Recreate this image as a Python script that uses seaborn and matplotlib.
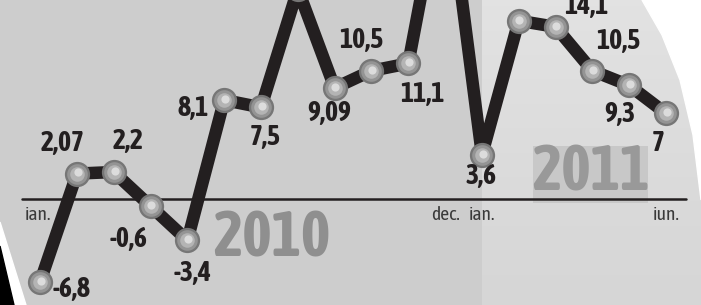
import matplotlib.pyplot as plt
import matplotlib.patches as mpatches
from matplotlib import font_manager
from matplotlib.colors import LinearSegmentedColormap
from matplotlib.transforms import IdentityTransform
import numpy as np
import seaborn as sns

# monthly values, ian. 2010 .. iun. 2011 (%)
months = ['ian.', 'feb.', 'mar.', 'apr.', 'mai', 'iun.', 'iul.', 'aug.', 'sep.', 'oct.', 'nov.', 'dec.',
          'ian.', 'feb.', 'mar.', 'apr.', 'mai', 'iun.']
values = [-6.8, 2.07, 2.2, -0.6, -3.4, 8.1, 7.5, 17.2, 9.09, 10.5, 11.1, 27.0,
          3.6, 14.6, 14.1, 10.5, 9.3, 7.0]
shown_months = [0, 11, 12, 17]
years = ['2010', '2011']

sns.set_theme(style='white')

# the original uses a condensed bold face, pick a narrow family that has a bold weight
fonts = font_manager.fontManager.ttflist
def is_narrow(f):
    return 'Narrow' in f.name or 'Condensed' in f.name
bold_w = ('bold', 'heavy', 'black', 'semibold', 'demibold', 600, 700, 800, 900)
narrow_bold = sorted({f.name for f in fonts if is_narrow(f) and f.weight in bold_w})
narrow_any = sorted({f.name for f in fonts if is_narrow(f)})
if narrow_bold:
    fam_b, size, ysize = narrow_bold[0], 20, 45
else:
    fam_b, size, ysize = 'DejaVu Sans', 14, 38
fam_r = narrow_any[0] if narrow_any else 'DejaVu Sans'
if fam_b in narrow_any:
    fam_r = fam_b
plt.rcParams['font.family'] = [fam_r, 'DejaVu Sans']

fig = plt.figure(figsize=(7.01, 3.05), dpi=100)
fig.patch.set_facecolor('#cdcdcd')
ax = fig.add_axes([0, 0, 1, 1])

x = np.arange(len(values))
ax.set_xlim(-1.09, 17.95)
ax.set_ylim(-8.7, 16.3)

# lighter panel for 2011
grad = np.linspace(0, 1, 50).reshape(-1, 1)
ax.imshow(grad, extent=(12, 17.95, -8.7, 16.3), aspect='auto',
          cmap=LinearSegmentedColormap.from_list('g', ['#d6d6d6', '#e2e2e2']),
          origin='lower', zorder=0)

# white curve top-right and stripes bottom-left
W, H = 701, 305
def fpoly(pts, **kw):
    fig.patches.append(mpatches.Polygon([(px / W, 1 - py / H) for px, py in pts],
                                        transform=fig.transFigure, figure=fig, **kw))
fpoly([(642, 0), (662, 35), (680, 80), (693, 135), (701, 200), (701, 0)], color='white', zorder=5)
fpoly([(0, 222), (26, 305), (14, 305), (0, 246)], color='white', zorder=5)
fpoly([(0, 246), (14, 305), (0, 305)], color='black', zorder=5)

# zero line
ax.plot([-0.5, 17.55], [0, 0], color='#231f20', lw=1.8, zorder=2)

sns.lineplot(x=x, y=values, ax=ax, color='#231f20', lw=9, zorder=3, legend=False)
# shaded balls: dark rim, grey body, light centre
ax.scatter(x, values, s=330, color='#767676', lw=0, zorder=4)
ax.scatter(x, values, s=220, color='#949494', lw=0, zorder=4)
ax.scatter(x, values, s=110, color='#b4b4b4', lw=0, zorder=4)
ax.scatter(x + 0.02, np.array(values) + 0.1, s=35, color='#dcdcdc', lw=0, zorder=4)

# label offsets in points (dx, dy, ha, va)
offs = [(9, 4, 'left', 'top'), (-10, 12, 'center', 'bottom'), (10, 12, 'center', 'bottom'),
        (-16, -14, 'center', 'top'), (4, -14, 'center', 'top'), (-11, -6, 'right', 'center'),
        (3, -12, 'center', 'top'), (-10, 4, 'right', 'bottom'), (-4, -9, 'center', 'top'),
        (-7, 12, 'center', 'bottom'), (10, -13, 'center', 'top'), (0, 10, 'center', 'bottom'),
        (-1, -6, 'center', 'top'), (-6, 14, 'center', 'bottom'), (22, 5, 'center', 'bottom'),
        (19, 11, 'center', 'bottom'), (-7, -11, 'center', 'top'), (-6, -12, 'center', 'top')]
for xi, v, (dx, dy, ha, va) in zip(x, values, offs):
    txt = ('%g' % v).replace('.', ',')
    ax.annotate(txt, (xi, v), xytext=(dx, dy), textcoords='offset points', ha=ha, va=va,
                fontsize=size, fontweight='bold', family=[fam_b, 'DejaVu Sans'],
                color='#231f20', zorder=6)

for i in shown_months:
    ax.annotate(months[i], (i, 0), xytext=(-2 if i == 0 else 0, -5), textcoords='offset points',
                ha='center', va='top', fontsize=14 if size == 20 else 11, color='#3a3a3a')

ax.text(6.3, -0.8, years[0], fontsize=ysize, fontweight='bold', family=[fam_b, 'DejaVu Sans'],
        color='#8f8f8f', ha='center', va='top', zorder=1)
t11 = ax.text(14.95, 4.6, years[1], fontsize=ysize, fontweight='bold', family=[fam_b, 'DejaVu Sans'],
              color='#999999', ha='center', va='top', zorder=1.5)

# slightly darker box behind "2011", from the top of the digits down to the baseline
fig.canvas.draw()
rend = fig.canvas.get_renderer()
bb = t11.get_window_extent(rend)
_, _, desc = rend.get_text_width_height_descent(years[1], t11.get_fontproperties(), ismath=False)
box = mpatches.Rectangle((bb.x0 + 1, bb.y0 + desc), bb.width - 2, bb.height - desc - 3,
                         transform=IdentityTransform(), fc='#c8c8c8', ec='none', zorder=1.2)
ax.add_artist(box)

ax.set_axis_off()
fig.savefig('out.png', dpi=100, facecolor=fig.get_facecolor())
